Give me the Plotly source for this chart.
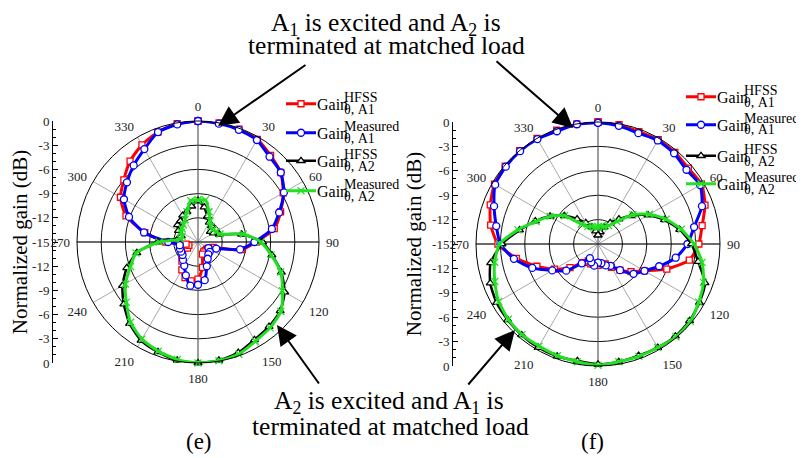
import plotly.graph_objects as go

# ---------------- data (normalized gain, dB) ----------------
theta = list(range(0, 361, 10))

# (e)
e_hfss_a1 = [0, 0, -0.1, -0.3, -1.0, -1.6, -2.8, -4.1, -5.4, -7.8, -9.5, -13.0, -13.5, -13.6, -13.6, -13.6,
             -13.4, -11.8, -10.4, -10.1, -10.3, -11.0, -11.9, -12.4, -13.5, -13.8, -13.5, -11.0, -8.3, -5.5,
             -3.9, -3.0, -1.9, -1.1, -0.5, -0.1, 0]
e_meas_a1 = [0, -0.1, -0.2, -0.4, -1.2, -1.6, -2.7, -4.3, -5.7, -8.0, -9.7, -12.6, -13.5, -13.1, -13.0, -12.6,
             -11.8, -10.2, -9.7, -9.5, -10.6, -11.6, -12.1, -12.5, -12.6, -12.6, -12.7, -11.3, -8.2, -5.9,
             -4.4, -3.5, -2.6, -1.7, -0.5, -0.2, 0]
e_hfss_a2 = [-9.9, -10.6, -11.6, -12.2, -12.4, -13.0, -12.8, -12.2, -9.5, -7.0, -5.7, -4.0, -2.6, -1.7, -1.3,
             -1.0, -0.4, -0.1, 0, -0.1, -0.5, -0.9, -1.8, -3.0, -4.2, -5.6, -7.3, -10.0, -12.5, -12.8, -12.2,
             -11.7, -11.6, -11.2, -11.0, -10.5, -9.9]
e_meas_a2 = [-9.8, -9.7, -11.0, -12.0, -12.5, -12.6, -12.4, -12.1, -9.3, -7.2, -5.8, -4.1, -2.9, -1.6, -1.1,
             -0.8, -0.2, -0.05, 0, -0.2, -0.6, -1.1, -2.0, -3.4, -4.6, -6.1, -7.2, -10.2, -12.8, -12.9, -12.6,
             -12.4, -12.2, -11.8, -11.0, -9.8, -9.8]

# (f)
f_hfss_a1 = [0, -0.1, -0.3, -0.2, -0.3, -0.5, -0.3, -1.0, -2.0, -2.6, -3.6, -6.0, -8.4, -9.7, -10.8, -11.7,
             -12.4, -12.5, -12.4, -12.6, -12.4, -12.6, -12.0, -10.5, -8.8, -7.0, -4.8, -2.7, -1.6, -0.9,
             -0.3, -0.1, 0, 0, -0.1, 0, 0]
f_meas_a1 = [-0.1, -0.25, -0.5, -0.3, -0.45, -0.8, -0.5, -1.4, -3.0, -4.0, -5.3, -7.0, -8.4, -9.3, -10.8, -11.9,
             -12.2, -12.6, -12.7, -12.3, -12.6, -13.0, -11.9, -9.9, -8.5, -6.4, -4.5, -3.0, -2.3, -1.4,
             -0.4, -0.2, -0.1, -0.1, -0.25, -0.05, -0.1]
f_hfss_a2 = [-13.9, -13.5, -12.8, -12.0, -11.0, -9.6, -7.9, -6.3, -4.8, -3.5, -2.5, -1.0, -0.6, -0.3, -0.2,
             -0.3, -0.4, -0.3, -0.2, -0.4, -0.3, -0.3, -0.4, -0.5, -0.6, -0.9, -1.6, -3.2, -5.2, -6.8, -8.2,
             -9.6, -11.0, -12.0, -12.8, -13.4, -13.9]
f_meas_a2 = [-12.9, -12.8, -12.7, -12.4, -11.4, -9.4, -7.7, -6.1, -4.6, -3.2, -2.0, -1.2, -0.7, -0.2, -0.1,
             -0.3, -0.3, -0.3, -0.1, -0.3, -0.4, -0.5, -0.45, -0.6, -0.9, -1.5, -2.1, -2.9, -5.0, -6.9, -8.2,
             -9.6, -11.8, -12.5, -12.7, -12.9, -12.9]

angle_ticks = list(range(0, 360, 30))
gain_ticks = list(range(-15, 16, 3))
gain_text = [str(-(15 - abs(v))) for v in gain_ticks]
ring_vals = [-12, -9, -6, -3]

sup_labels = ["HFSS", "Measured", "HFSS", "Measured"]
sub_labels = ["θ, A1", "θ, A1", "θ, A2", "θ, A2"]

# ---------------- styling ----------------
# the page body has an 8px margin, so the figure is 8px smaller and offset
OFF = 8
W, H = 804 - OFF, 458 - OFF
FONT = "Liberation Serif"


def px(x):
    return (x - OFF) / W


def py(y):
    return 1 - (y - OFF) / H


styles = [
    dict(color="#ff0000", symbol="square", lw=3.0, ms=6),
    dict(color="#0000ff", symbol="circle", lw=3.0, ms=7),
    dict(color="#000000", symbol="triangle-up", lw=2.5, ms=7),
    dict(color="#22e022", symbol="x-thin", lw=3.0, ms=7),
]

charts = [
    dict(polar="polar", data=[e_hfss_a1, e_meas_a1, e_hfss_a2, e_meas_a2],
         cx=198, cy=242, R=121, axis_x=53, legend_x=288, legend_y=[104, 133, 161, 191],
         legends=["legend", "legend2", "legend3", "legend4"], xa="x", ya="y"),
    dict(polar="polar2", data=[f_hfss_a1, f_meas_a1, f_hfss_a2, f_meas_a2],
         cx=598, cy=244, R=122, axis_x=453, legend_x=688, legend_y=[97, 125, 156, 184],
         legends=["legend5", "legend6", "legend7", "legend8"], xa="x2", ya="y2"),
]

fig = go.Figure()
layout = dict(width=W, height=H, margin=dict(l=0, r=0, t=0, b=0, pad=0, autoexpand=False), autosize=False,
              template="none",
              paper_bgcolor="white", plot_bgcolor="white", showlegend=True,
              font=dict(family=FONT, color="#000"))
annotations = []

for ch in charts:
    pol = ch["polar"]
    # axis cross through the centre
    fig.add_trace(go.Scatterpolar(r=[0, 0], theta=[0, 180], mode="lines", subplot=pol,
                                  line=dict(color="#666", width=1), showlegend=False, hoverinfo="skip"))
    fig.add_trace(go.Scatterpolar(r=[0, 0], theta=[90, 270], mode="lines", subplot=pol,
                                  line=dict(color="#000", width=1), showlegend=False, hoverinfo="skip"))
    for i, (vals, st) in enumerate(zip(ch["data"], styles)):
        fig.add_trace(go.Scatterpolar(
            r=vals, theta=theta, mode="lines+markers", subplot=pol, name=" ",
            legend=ch["legends"][i],
            line=dict(color=st["color"], width=st["lw"], shape="spline", smoothing=0.6),
            marker=dict(symbol=st["symbol"], size=st["ms"],
                        color="white" if st["symbol"] != "x-thin" else st["color"],
                        line=dict(color=st["color"], width=1.3)),
            hoverinfo="skip"))
        gy = ch["legend_y"][i]
        gx = ch["legend_x"]
        layout[ch["legends"][i]] = dict(x=px(gx - 7), y=py(gy), xanchor="left", yanchor="middle",
                                        bgcolor="rgba(0,0,0,0)", borderwidth=0,
                                        font=dict(family=FONT, size=15))
        annotations.append(dict(text="Gain", x=px(gx + 27), y=py(gy), xref="paper", yref="paper",
                                xanchor="left", yanchor="middle", showarrow=False,
                                font=dict(family=FONT, size=16)))
        annotations.append(dict(text=sup_labels[i], x=px(gx + 54), y=py(gy - 7), xref="paper", yref="paper",
                                xanchor="left", yanchor="middle", showarrow=False,
                                font=dict(family=FONT, size=14)))
        annotations.append(dict(text=sub_labels[i], x=px(gx + 54), y=py(gy + 5), xref="paper", yref="paper",
                                xanchor="left", yanchor="middle", showarrow=False,
                                font=dict(family=FONT, size=14)))

    cx, cy, R = ch["cx"], ch["cy"], ch["R"]
    layout[pol] = dict(
        domain=dict(x=[px(cx - R), px(cx + R)], y=[py(cy + R), py(cy - R)]),
        bgcolor="white",
        radialaxis=dict(range=[-15, 0], tickvals=ring_vals, showticklabels=False, ticks="",
                        showline=False, gridcolor="#111", gridwidth=1),
        angularaxis=dict(rotation=90, direction="clockwise", tickmode="array", tickvals=angle_ticks,
                         ticktext=[str(a) for a in angle_ticks], showline=True, linecolor="#000",
                         linewidth=1, gridcolor="#aaa", gridwidth=1, ticks="outside", ticklen=4,
                         tickcolor="rgba(0,0,0,0)", tickfont=dict(family=FONT, size=13, color="#222")),
    )
    # radial dB scale drawn as a vertical axis at the left
    fig.add_trace(go.Scatter(x=[None], y=[None], xaxis=ch["xa"], yaxis=ch["ya"], showlegend=False,
                             hoverinfo="skip"))
    xa_key = "xaxis" if ch["xa"] == "x" else "xaxis2"
    ya_key = "yaxis" if ch["ya"] == "y" else "yaxis2"
    layout[xa_key] = dict(domain=[px(ch["axis_x"]), px(ch["axis_x"] + 1)], visible=False,
                          anchor=ch["ya"], range=[0, 1], automargin=False)
    layout[ya_key] = dict(domain=[py(cy + R), py(cy - R)], range=[-15, 15], anchor=ch["xa"],
                          automargin=False,
                          tickmode="array", tickvals=gain_ticks, ticktext=gain_text,
                          ticks="inside", ticklen=5, tickcolor="#000", showline=True, linecolor="#000",
                          linewidth=1, showgrid=False, zeroline=False,
                          minor=dict(tickmode="linear", tick0=0, dtick=1, ticks="inside", ticklen=3,
                                     tickcolor="#000", showgrid=False),
                          tickfont=dict(family=FONT, size=13, color="#222"),
                          title=dict(text="Normalized gain (dB)", font=dict(family=FONT, size=21), standoff=4))

# ---------------- texts & arrows ----------------
texts = [
    ("A<sub>1</sub> is excited and A<sub>2</sub> is", 386, 24, 25.5),
    ("terminated at matched load", 386, 46, 25.5),
    ("A<sub>2</sub> is excited and A<sub>1</sub> is", 389, 402, 25.5),
    ("terminated at matched load", 390, 426, 25.5),
    ("(e)", 199, 441, 23),
    ("(f)", 592, 441, 23),
]
for t, x, y, s in texts:
    annotations.append(dict(text=t, x=px(x), y=py(y), xref="paper", yref="paper", xanchor="center",
                            yanchor="middle", showarrow=False, font=dict(family=FONT, size=s)))

arrows = [((218, 126), (307, 64)), ((573, 128), (495, 60)), ((277, 325), (320, 385)), ((515, 330), (467, 386))]
for (tx, ty), (sx, sy) in arrows:
    annotations.append(dict(text="", x=px(tx), y=py(ty), xref="paper", yref="paper",
                            ax=sx - tx, ay=sy - ty, axref="pixel", ayref="pixel", showarrow=True,
                            arrowhead=2, arrowsize=2, arrowwidth=2, arrowcolor="#000", standoff=0))

layout["annotations"] = annotations
fig.update_layout(**layout)
fig.write_html("out.html")
